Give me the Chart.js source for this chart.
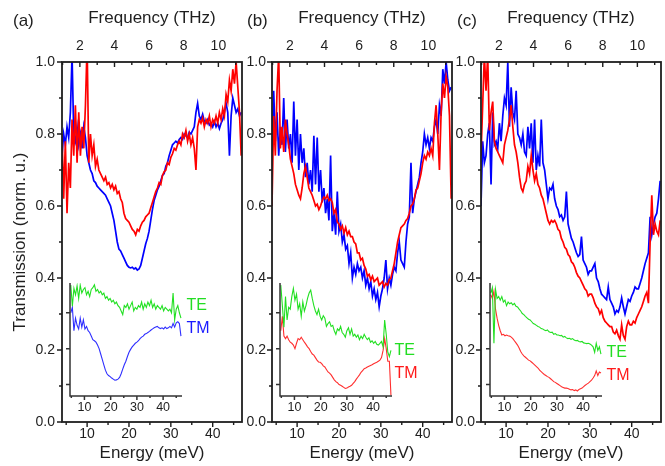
<!DOCTYPE html>
<html><head><meta charset="utf-8">
<script src="https://cdn.jsdelivr.net/npm/chart.js@4"></script>
<style>
html,body{margin:0;padding:0;background:#fff;}
#wrap{position:relative;width:665px;height:466px;overflow:hidden;background:#fff;}
canvas{position:absolute;}
</style></head><body><div id="wrap"></div>
<script>
// ---------- data ----------
const energy = [4.0,4.4,4.8,5.2,5.6,6.0,6.4,6.8,7.2,7.6,8.0,8.4,8.8,9.2,9.6,10.0,10.4,10.8,11.2,11.6,
12.0,12.4,12.8,13.2,13.6,14.0,14.4,14.8,15.2,15.6,16.0,16.4,16.8,17.2,17.6,18.0,18.4,18.8,19.2,19.6,
20.0,20.4,20.8,21.2,21.6,22.0,22.4,22.8,23.2,23.6,24.0,24.4,24.8,25.2,25.6,26.0,26.4,26.8,27.2,27.6,
28.0,28.4,28.8,29.2,29.6,30.0,30.4,30.8,31.2,31.6,32.0,32.4,32.8,33.2,33.6,34.0,34.4,34.8,35.2,35.6,
36.0,36.4,36.8,37.2,37.6,38.0,38.4,38.8,39.2,39.6,40.0,40.4,40.8,41.2,41.6,42.0,42.4,42.8,43.2,43.6,
44.0,44.4,44.8,45.2,45.6,46.0,46.4,46.8];

const mainBlueA = [0.74,0.80,0.77,0.82,0.79,0.86,1.02,0.80,0.78,0.82,
0.77,0.80,0.76,0.82,0.79,0.74,0.72,0.70,0.69,0.67,
0.665,0.655,0.65,0.645,0.64,0.635,0.63,0.62,0.61,0.60,
0.58,0.56,0.53,0.50,0.48,0.475,0.465,0.455,0.445,0.435,
0.43,0.428,0.43,0.425,0.428,0.422,0.425,0.435,0.455,0.475,
0.495,0.51,0.53,0.56,0.59,0.615,0.63,0.645,0.655,0.67,
0.685,0.69,0.71,0.72,0.74,0.755,0.77,0.775,0.78,0.775,
0.785,0.79,0.785,0.80,0.795,0.79,0.805,0.80,0.81,0.82,
0.86,0.885,0.85,0.84,0.855,0.835,0.83,0.84,0.825,0.83,
0.82,0.835,0.82,0.83,0.815,0.83,0.84,0.86,0.885,0.86,
0.74,0.85,0.90,0.88,0.86,0.87,0.85,0.86];
const mainRedA = [0.80,0.62,0.78,0.58,0.72,0.65,0.84,0.74,0.88,0.72,
0.86,0.74,0.82,0.76,0.88,1.05,0.72,0.80,0.74,0.77,
0.71,0.73,0.70,0.69,0.68,0.67,0.68,0.66,0.665,0.65,
0.66,0.645,0.655,0.635,0.64,0.62,0.61,0.58,0.565,0.56,
0.555,0.545,0.535,0.53,0.52,0.535,0.53,0.545,0.555,0.56,
0.57,0.575,0.58,0.595,0.61,0.625,0.64,0.65,0.665,0.66,
0.685,0.695,0.70,0.72,0.715,0.735,0.745,0.76,0.755,0.77,
0.78,0.77,0.80,0.79,0.81,0.78,0.80,0.77,0.79,0.76,
0.70,0.82,0.84,0.83,0.845,0.82,0.84,0.83,0.85,0.82,
0.84,0.83,0.85,0.83,0.86,0.84,0.87,0.85,0.91,0.89,
0.95,0.92,0.98,0.94,1.0,0.93,0.86,0.74];

const mainBlueB = [0.75,0.92,0.78,0.86,0.74,0.82,0.77,0.90,0.75,0.84,
0.76,0.80,0.72,0.89,0.74,0.84,0.70,0.80,0.72,0.76,
0.68,0.72,0.66,0.70,0.64,0.795,0.66,0.79,0.64,0.70,
0.61,0.65,0.58,0.62,0.56,0.74,0.53,0.58,0.52,0.64,
0.53,0.55,0.50,0.52,0.48,0.49,0.44,0.47,0.40,0.43,
0.41,0.44,0.42,0.43,0.40,0.42,0.38,0.40,0.37,0.39,
0.35,0.37,0.34,0.36,0.32,0.35,0.37,0.40,0.45,0.37,
0.40,0.38,0.41,0.43,0.42,0.47,0.50,0.45,0.44,0.43,
0.50,0.55,0.57,0.72,0.58,0.62,0.64,0.66,0.68,0.72,
0.75,0.80,0.77,0.79,0.76,0.79,0.78,0.82,0.84,0.80,
0.88,0.85,0.98,0.94,1.0,0.95,0.92,0.93];
const mainRedB = [0.60,0.85,0.74,0.92,1.02,0.76,0.82,0.75,0.84,0.80,
0.77,0.73,0.71,0.69,0.66,0.645,0.63,0.62,0.65,0.69,
0.71,0.68,0.65,0.64,0.63,0.615,0.60,0.605,0.59,0.60,
0.615,0.625,0.62,0.63,0.615,0.62,0.61,0.58,0.59,0.555,
0.55,0.535,0.545,0.525,0.54,0.52,0.53,0.515,0.515,0.50,
0.495,0.47,0.47,0.45,0.455,0.435,0.425,0.405,0.41,0.395,
0.405,0.39,0.395,0.40,0.38,0.385,0.39,0.375,0.385,0.38,
0.395,0.40,0.42,0.44,0.47,0.50,0.52,0.54,0.545,0.55,
0.56,0.565,0.58,0.60,0.605,0.62,0.645,0.65,0.67,0.69,
0.72,0.74,0.73,0.75,0.74,0.76,0.74,0.83,0.88,0.80,
0.70,0.86,0.94,0.90,0.96,0.93,0.85,0.62];

const mainBlueC = [0.60,0.78,0.72,0.74,0.80,0.83,0.66,0.86,0.77,0.78,
0.76,0.83,0.78,0.85,0.90,0.88,1.0,0.82,0.93,0.86,
0.84,0.92,0.80,0.79,0.77,0.80,0.75,0.74,0.82,0.76,
0.83,0.72,0.84,0.70,0.74,0.71,0.84,0.72,0.70,0.66,
0.62,0.65,0.645,0.66,0.62,0.60,0.59,0.57,0.575,0.56,
0.57,0.64,0.55,0.53,0.51,0.50,0.485,0.47,0.46,0.465,
0.515,0.45,0.44,0.43,0.41,0.42,0.42,0.43,0.44,0.40,
0.39,0.37,0.355,0.35,0.345,0.34,0.375,0.34,0.33,0.32,
0.30,0.31,0.305,0.32,0.345,0.32,0.30,0.32,0.34,0.335,
0.35,0.36,0.375,0.37,0.37,0.385,0.40,0.42,0.44,0.455,
0.47,0.57,0.52,0.55,0.57,0.58,0.62,0.67];
const mainRedC = [0.74,0.88,1.02,0.92,1.02,0.81,0.86,0.89,0.78,0.76,
0.75,0.74,0.73,0.72,0.77,0.79,0.81,0.84,0.88,0.82,
0.77,0.75,0.72,0.68,0.65,0.64,0.66,0.67,0.71,0.69,
0.74,0.70,0.67,0.69,0.66,0.65,0.63,0.62,0.60,0.58,
0.56,0.55,0.56,0.555,0.56,0.55,0.535,0.53,0.51,0.50,
0.485,0.48,0.465,0.46,0.445,0.44,0.43,0.415,0.405,0.40,
0.39,0.38,0.37,0.365,0.35,0.355,0.355,0.345,0.33,0.32,
0.315,0.30,0.31,0.29,0.28,0.275,0.27,0.265,0.265,0.25,
0.245,0.255,0.24,0.23,0.27,0.24,0.23,0.265,0.28,0.27,
0.27,0.28,0.275,0.29,0.30,0.31,0.32,0.335,0.35,0.36,
0.33,0.50,0.63,0.52,0.55,0.53,0.52,0.56];

const energyInset = [4.8,5.4,6.0,6.6,7.2,7.8,8.4,9.0,9.6,10.2,10.8,11.4,12.0,12.6,13.2,13.8,14.4,15.0,15.6,16.2,
16.8,17.4,18.0,18.6,19.2,19.8,20.4,21.0,21.6,22.2,22.8,23.4,24.0,24.6,25.2,25.8,26.4,27.0,27.6,28.2,
28.8,29.4,30.0,30.6,31.2,31.8,32.4,33.0,33.6,34.2,34.8,35.4,36.0,36.6,37.2,37.8,38.4,39.0,39.6,40.2,
40.8,41.4,42.0,42.6,43.2,43.8,44.4,45.0,45.6,46.2,46.8];

const insetTEA = [0.377,0.318,0.368,0.35,0.375,0.34,0.377,0.355,0.365,0.37,
0.35,0.36,0.345,0.365,0.37,0.378,0.36,0.365,0.355,0.36,
0.35,0.355,0.34,0.345,0.335,0.34,0.33,0.335,0.325,0.33,
0.32,0.315,0.305,0.295,0.32,0.315,0.325,0.31,0.32,0.33,
0.305,0.315,0.31,0.32,0.315,0.33,0.31,0.325,0.315,0.33,
0.32,0.335,0.315,0.325,0.31,0.32,0.315,0.31,0.32,0.305,
0.315,0.31,0.305,0.31,0.30,0.355,0.28,0.31,0.32,0.30,0.285];
const insetTMA = [0.30,0.315,0.25,0.285,0.265,0.255,0.285,0.26,0.28,0.255,
0.262,0.25,0.245,0.235,0.225,0.222,0.218,0.21,0.20,0.185,
0.17,0.155,0.14,0.13,0.125,0.122,0.118,0.115,0.112,0.113,
0.115,0.12,0.13,0.143,0.155,0.165,0.178,0.19,0.198,0.205,
0.21,0.215,0.218,0.222,0.228,0.232,0.235,0.24,0.242,0.245,
0.248,0.252,0.255,0.258,0.26,0.262,0.258,0.256,0.258,0.255,
0.26,0.256,0.258,0.262,0.258,0.27,0.26,0.272,0.275,0.27,0.235];
const insetTEB = [0.377,0.32,0.26,0.345,0.28,0.315,0.31,0.345,0.368,0.335,
0.352,0.31,0.325,0.29,0.33,0.305,0.32,0.34,0.355,0.363,
0.34,0.32,0.305,0.295,0.31,0.29,0.28,0.292,0.285,0.262,
0.27,0.275,0.262,0.265,0.25,0.24,0.255,0.25,0.262,0.245,
0.24,0.232,0.25,0.258,0.24,0.255,0.235,0.24,0.232,0.238,
0.225,0.235,0.228,0.24,0.232,0.225,0.23,0.218,0.222,0.215,
0.22,0.212,0.21,0.215,0.22,0.205,0.28,0.24,0.19,0.178,0.195];
const insetTMB = [0.25,0.29,0.235,0.228,0.235,0.225,0.218,0.215,0.21,0.20,
0.215,0.228,0.225,0.232,0.225,0.218,0.212,0.205,0.20,0.192,
0.185,0.182,0.175,0.168,0.163,0.162,0.158,0.152,0.149,0.142,
0.135,0.132,0.127,0.12,0.113,0.108,0.105,0.10,0.098,0.095,
0.092,0.089,0.09,0.093,0.095,0.098,0.103,0.108,0.115,0.121,
0.127,0.134,0.139,0.144,0.146,0.149,0.151,0.153,0.155,0.158,
0.16,0.162,0.165,0.168,0.175,0.195,0.228,0.20,0.165,0.165,0.07];
const insetTEC = [0.355,0.37,0.215,0.365,0.34,0.345,0.335,0.345,0.33,0.335,
0.32,0.33,0.325,0.328,0.322,0.326,0.318,0.316,0.31,0.305,
0.298,0.295,0.29,0.286,0.282,0.28,0.275,0.27,0.268,0.265,
0.262,0.26,0.256,0.255,0.252,0.25,0.252,0.247,0.245,0.246,
0.24,0.242,0.238,0.238,0.236,0.237,0.232,0.234,0.23,0.228,
0.229,0.226,0.228,0.224,0.222,0.223,0.22,0.219,0.22,0.216,
0.215,0.214,0.215,0.213,0.21,0.205,0.19,0.215,0.195,0.205,0.185];
const insetTMC = [0.35,0.34,0.36,0.31,0.285,0.265,0.25,0.238,0.24,0.236,
0.238,0.236,0.235,0.232,0.228,0.222,0.216,0.21,0.202,0.192,
0.185,0.18,0.176,0.172,0.168,0.166,0.162,0.158,0.154,0.15,
0.146,0.14,0.136,0.132,0.128,0.125,0.122,0.12,0.116,0.112,
0.108,0.106,0.103,0.10,0.097,0.094,0.092,0.09,0.09,0.089,
0.087,0.085,0.086,0.083,0.085,0.082,0.086,0.088,0.09,0.094,
0.098,0.101,0.104,0.108,0.112,0.118,0.125,0.138,0.125,0.135,0.132];

// tick positions
const energyTicks = [10,20,30,40];
const energyMinor = [5,15,25,35,45];
const freqTicks = [2,4,6,8,10];
const freqMinor = [1,3,5,7,9,11];
const transTicks = [0,0.2,0.4,0.6,0.8,1.0];
const transMinor = [0.1,0.3,0.5,0.7,0.9];
const insetYTicks = [0.1,0.2,0.3];

// ---------- drawing ----------
const FONT = '"Liberation Sans", Arial, Helvetica, sans-serif';
const INK = '#1e1e1e';
const MEV_PER_THZ = 4.1357;
const wrap = document.getElementById('wrap');

function makeCanvas(left, top, w, h) {
  const c = document.createElement('canvas');
  c.width = w; c.height = h;
  c.style.left = left + 'px'; c.style.top = top + 'px';
  c.style.width = w + 'px'; c.style.height = h + 'px';
  wrap.appendChild(c);
  return c;
}
const pairs = (xs, ys) => xs.map((e, i) => ({x: e, y: ys[i]}));
const fixTicks = list => s => { s.ticks = list.map(v => ({value: v})); };

const mainFrame = {
  id: 'mainFrame',
  afterDraw(chart, args, opts) {
    const {ctx, chartArea: a, scales} = chart;
    const x = scales.x, xt = scales.xTop, y = scales.y;
    ctx.save();
    ctx.strokeStyle = INK; ctx.lineWidth = 1.8;
    ctx.strokeRect(a.left, a.top, a.right - a.left, a.bottom - a.top);
    ctx.lineWidth = 1.4;
    ctx.beginPath();
    const tick = (px, py, dx, dy) => { ctx.moveTo(px, py); ctx.lineTo(px + dx, py + dy); };
    transTicks.forEach(v => tick(a.left, y.getPixelForValue(v), -5, 0));
    transMinor.forEach(v => tick(a.left, y.getPixelForValue(v), -3, 0));
    energyTicks.forEach(v => tick(x.getPixelForValue(v), a.bottom, 0, 5));
    energyMinor.forEach(v => tick(x.getPixelForValue(v), a.bottom, 0, 3));
    freqTicks.forEach(v => tick(xt.getPixelForValue(v), a.top, 0, 5));
    freqMinor.forEach(v => tick(xt.getPixelForValue(v), a.top, 0, 3));
    ctx.stroke();
    ctx.fillStyle = INK; ctx.font = '17px ' + FONT;
    ctx.textBaseline = 'middle'; ctx.textAlign = 'left';
    ctx.fillText(opts.label, opts.labelX, opts.labelY);
    ctx.restore();
  }
};

function mainChart(cfg) {
  const YW = 62, PW = 180, PR = 5;
  const canvas = makeCanvas(cfg.plotLeft - YW, 0, YW + PW + PR, 466);
  const tickFont = {family: FONT, size: 14};
  const titleFont = {family: FONT, size: 17};
  new Chart(canvas, {
    type: 'line',
    data: {datasets: [
      {data: pairs(energy, cfg.red), borderColor: '#ff0000', borderWidth: 1.7, pointRadius: 0, tension: 0, xAxisID: 'x', yAxisID: 'y'},
      {data: pairs(energy, cfg.blue), borderColor: '#0000ff', borderWidth: 1.7, pointRadius: 0, tension: 0, xAxisID: 'x', yAxisID: 'y'}
    ]},
    options: {
      responsive: false, animation: false,
      layout: {padding: {left: 0, right: PR, top: 0, bottom: 0}},
      plugins: {legend: {display: false}, tooltip: {enabled: false},
        mainFrame: {label: cfg.label, labelX: cfg.labelX, labelY: 21}},
      scales: {
        x: {type: 'linear', position: 'bottom', min: 4, max: 47,
          afterBuildTicks: fixTicks(energyTicks), afterFit: s => { s.height = 44; },
          grid: {display: false, drawTicks: false}, border: {display: false},
          ticks: {color: INK, font: tickFont, padding: 4, maxRotation: 0, autoSkip: false},
          title: {display: true, text: 'Energy (meV)', color: INK, font: titleFont, padding: {top: 0, bottom: 2}}},
        xTop: {type: 'linear', position: 'top', min: 4 / MEV_PER_THZ, max: 47 / MEV_PER_THZ,
          afterBuildTicks: fixTicks(freqTicks), afterFit: s => { s.height = 62; },
          grid: {display: false, drawTicks: false}, border: {display: false},
          ticks: {color: INK, font: tickFont, padding: 7, maxRotation: 0, autoSkip: false},
          title: {display: true, text: 'Frequency (THz)', color: INK, font: titleFont, padding: {top: 8, bottom: 0}}},
        y: {type: 'linear', position: 'left', min: 0, max: 1,
          afterBuildTicks: fixTicks(transTicks), afterFit: s => { s.width = YW; },
          grid: {display: false, drawTicks: false}, border: {display: false},
          ticks: {color: INK, font: tickFont, padding: cfg.yPad, callback: v => v.toFixed(1)},
          title: {display: cfg.showYTitle, text: 'Transmission (norm. u.)', color: INK, font: titleFont, padding: {top: 10, bottom: 0}}}
      }
    },
    plugins: [mainFrame]
  });
}

const insetFrame = {
  id: 'insetFrame',
  afterDraw(chart, args, opts) {
    const {ctx, chartArea: a, scales} = chart;
    const x = scales.x, y = scales.y;
    ctx.save();
    ctx.strokeStyle = '#333'; ctx.lineWidth = 1.5;
    ctx.beginPath();
    ctx.moveTo(a.left, a.top); ctx.lineTo(a.left, a.bottom); ctx.lineTo(a.right, a.bottom);
    insetYTicks.forEach(v => { const py = y.getPixelForValue(v); ctx.moveTo(a.left, py); ctx.lineTo(a.left - 4, py); });
    energyTicks.forEach(v => { const px = x.getPixelForValue(v); ctx.moveTo(px, a.bottom); ctx.lineTo(px, a.bottom + 4); });
    energyMinor.forEach(v => { const px = x.getPixelForValue(v); ctx.moveTo(px, a.bottom); ctx.lineTo(px, a.bottom + 2); });
    ctx.stroke();
    ctx.font = '16px ' + FONT; ctx.textBaseline = 'middle'; ctx.textAlign = 'left';
    ctx.fillStyle = '#22dd22';
    ctx.fillText('TE', a.right + opts.dx, y.getPixelForValue(opts.teY));
    ctx.fillStyle = opts.tmColor;
    ctx.fillText('TM', a.right + opts.dx, y.getPixelForValue(opts.tmY));
    ctx.restore();
  }
};

function insetChart(cfg) {
  const YW = 12, XH = 24, PT = 5, PR = 44, PW = 112, PH = 113;
  const canvas = makeCanvas(cfg.left - YW, 278, YW + PW + PR, PT + PH + XH);
  new Chart(canvas, {
    type: 'line',
    data: {datasets: [
      {data: pairs(energyInset, cfg.te), borderColor: '#22e022', borderWidth: 1.1, pointRadius: 0, tension: 0},
      {data: pairs(energyInset, cfg.tm), borderColor: cfg.tmLine, borderWidth: 1.1, pointRadius: 0, tension: 0}
    ]},
    options: {
      responsive: false, animation: false,
      layout: {padding: {left: 0, right: PR, top: PT, bottom: 0}},
      plugins: {legend: {display: false}, tooltip: {enabled: false},
        insetFrame: {dx: cfg.dx, teY: cfg.teY, tmY: cfg.tmY, tmColor: cfg.tmText}},
      scales: {
        x: {type: 'linear', position: 'bottom', min: 4.5, max: 47.2,
          afterBuildTicks: fixTicks(energyTicks), afterFit: s => { s.height = XH; },
          grid: {display: false, drawTicks: false}, border: {display: false},
          ticks: {color: INK, font: {family: FONT, size: 12.5}, padding: 4, maxRotation: 0, autoSkip: false}},
        y: {type: 'linear', position: 'left', min: 0.068, max: 0.383,
          afterBuildTicks: fixTicks(insetYTicks), afterFit: s => { s.width = YW; },
          grid: {display: false, drawTicks: false}, border: {display: false},
          ticks: {display: false}}
      }
    },
    plugins: [insetFrame]
  });
}

mainChart({plotLeft: 62, red: mainRedA, blue: mainBlueA, label: '(a)', labelX: 13, yPad: 7, showYTitle: true});
mainChart({plotLeft: 272, red: mainRedB, blue: mainBlueB, label: '(b)', labelX: 37, yPad: 6, showYTitle: false});
mainChart({plotLeft: 481, red: mainRedC, blue: mainBlueC, label: '(c)', labelX: 38, yPad: 6, showYTitle: false});

insetChart({left: 70, te: insetTEA, tm: insetTMA, tmLine: '#2f2fff', tmText: '#1a1aff', dx: 4.5, teY: 0.319, tmY: 0.255});
insetChart({left: 280, te: insetTEB, tm: insetTMB, tmLine: '#ff2f2f', tmText: '#ff1a1a', dx: 2.5, teY: 0.194, tmY: 0.130});
insetChart({left: 490, te: insetTEC, tm: insetTMC, tmLine: '#ff2f2f', tmText: '#ff1a1a', dx: 4.5, teY: 0.188, tmY: 0.125});
</script>
</body></html>
